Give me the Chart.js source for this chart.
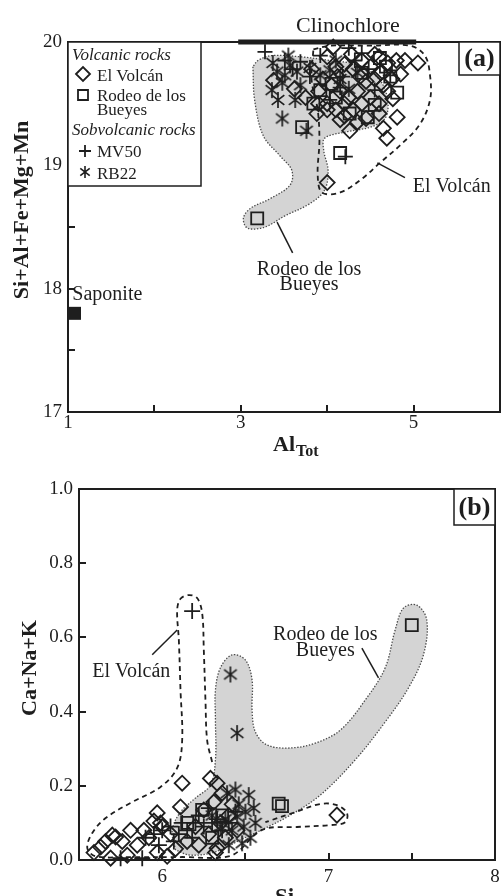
<!DOCTYPE html>
<html>
<head>
<meta charset="utf-8">
<script src="https://cdn.jsdelivr.net/npm/chart.js@4.4.0/dist/chart.umd.min.js"></script>
<style>
  html, body { margin: 0; padding: 0; background: #fff; }
  body { width: 501px; height: 896px; position: relative; overflow: hidden; }
  canvas { position: absolute; left: 0; }
  #chartA { top: 0; }
  #chartB { top: 445px; }
</style>
</head>
<body>
<canvas id="chartA" width="501" height="470"></canvas>
<canvas id="chartB" width="501" height="451"></canvas>
<script>
// ---- panel (a): Si+Al+Fe+Mg+Mn vs Al_Tot ----
const aXTicks = [1, 2, 3, 4, 5, 6];
const aXLabels = [1, 3, 5];
const aYTicks = [17, 17.5, 18, 18.5, 19, 19.5, 20];

const volcanA_al = [4.07, 4.00, 4.10, 4.20, 4.30, 4.40, 4.50, 4.60, 4.70, 4.80, 4.90, 5.05, 4.85, 4.75, 4.65, 4.55, 4.45, 4.35, 4.25, 4.15,
  4.05, 3.95, 3.90, 4.00, 4.10, 4.20, 4.30, 4.40, 4.50, 4.60, 4.70, 4.76, 4.81, 4.65, 4.69, 4.60, 4.45, 4.35, 4.20, 4.00,
  3.90, 4.00, 3.82, 3.75, 4.55, 4.28, 3.88, 4.12, 4.38, 4.62, 4.26, 4.15, 3.38, 3.62];
const volcanA_sum = [19.96, 19.88, 19.80, 19.82, 19.78, 19.85, 19.80, 19.88, 19.83, 19.85, 19.85, 19.83, 19.74, 19.70, 19.65, 19.70, 19.68, 19.60, 19.55, 19.60,
  19.65, 19.70, 19.60, 19.50, 19.45, 19.40, 19.45, 19.50, 19.55, 19.50, 19.60, 19.54, 19.39, 19.30, 19.22, 19.42, 19.38, 19.35, 19.50, 19.45,
  19.50, 18.86, 19.78, 19.55, 19.90, 19.90, 19.42, 19.72, 19.72, 19.75, 19.28, 19.37, 19.69, 19.62];

const rodeoA_al = [3.19, 4.15, 3.71, 3.84, 4.47, 4.55, 3.92, 4.61, 4.73, 4.81, 4.26, 4.05, 4.68, 4.40, 4.10];
const rodeoA_sum = [18.57, 19.10, 19.31, 19.50, 19.39, 19.49, 19.61, 19.87, 19.72, 19.59, 19.42, 19.66, 19.80, 19.75, 19.55];

const mv50A_al = [4.40, 4.18, 4.21, 3.80, 3.28, 3.51, 4.32, 4.03, 4.55, 3.92, 3.69, 4.15, 4.73, 3.60, 4.48, 4.25];
const mv50A_sum = [19.91, 19.72, 19.07, 19.72, 19.92, 19.85, 19.85, 19.53, 19.61, 19.89, 19.84, 19.63, 19.73, 19.78, 19.78, 19.95];

const rb22A_al = [3.36, 3.37, 3.42, 3.48, 3.43, 3.48, 3.76, 3.65, 3.57, 3.51, 3.69, 3.80, 3.92, 4.03, 3.63, 3.55, 4.15, 4.25, 4.10, 4.35];
const rb22A_sum = [19.61, 19.83, 19.76, 19.67, 19.53, 19.38, 19.28, 19.76, 19.81, 19.73, 19.65, 19.79, 19.73, 19.77, 19.53, 19.89, 19.70, 19.62, 19.85, 19.75];

const saponite_al = [1.075];
const saponite_sum = [17.80];
const clinochlore_al = [2.97, 5.03];
const clinochlore_sum = [20, 20];

const rodeoFieldA_al = [3.14, 3.16, 3.26, 3.45, 3.59, 3.57, 3.34, 3.11, 3.03, 3.08, 3.28, 3.51, 3.80, 3.97, 4.01, 3.96, 3.97, 4.21,
  4.50, 4.67, 4.70, 4.61, 4.38, 4.03, 3.69, 3.36, 3.20, 3.14];
const rodeoFieldA_sum = [19.80, 19.53, 19.24, 19.08, 18.96, 18.84, 18.73, 18.65, 18.57, 18.49, 18.50, 18.59, 18.69, 18.80, 18.96, 19.12, 19.22, 19.27,
  19.31, 19.38, 19.53, 19.69, 19.81, 19.85, 19.88, 19.89, 19.85, 19.80];
const volcanFieldA_al = [3.84, 4.03, 4.50, 4.96, 5.13, 5.19, 5.19, 5.07, 4.84, 4.61, 4.40, 4.15, 3.94, 3.89, 3.91, 3.89, 3.82, 3.84];
const volcanFieldA_sum = [19.94, 19.97, 19.97, 19.97, 19.89, 19.73, 19.53, 19.33, 19.16, 19.02, 18.89, 18.78, 18.78, 18.92, 19.20, 19.45, 19.69, 19.94];

// ---- panel (b): Ca+Na+K vs Si ----
const bXTicks = [5.5, 6, 6.5, 7, 7.5, 8];
const bXLabels = [6, 7, 8];
const bYTicks = [0, 0.2, 0.4, 0.6, 0.8, 1.0];

const volcanB_si = [5.59, 5.63, 5.69, 5.72, 5.79, 5.81, 5.76, 5.85, 5.89, 5.92, 5.97, 5.97, 6.03, 6.00, 6.05, 6.11, 6.12, 6.15, 6.20, 6.25,
  6.29, 6.31, 6.33, 6.32, 6.35, 6.40, 6.38, 6.45, 6.28, 6.22, 5.95, 6.08, 6.42, 7.05, 5.66, 6.36, 5.70, 6.33, 5.99];
const volcanB_alk = [0.020, 0.035, 0.005, 0.062, 0.013, 0.080, 0.050, 0.040, 0.080, 0.060, 0.127, 0.020, 0.010, 0.090, 0.070, 0.143, 0.207, 0.050, 0.090, 0.135,
  0.220, 0.156, 0.207, 0.020, 0.100, 0.120, 0.060, 0.080, 0.070, 0.040, 0.105, 0.030, 0.150, 0.121, 0.050, 0.180, 0.067, 0.032, 0.100];

const rodeoB_si = [7.50, 6.70, 6.72, 6.24, 6.36, 6.30, 6.15];
const rodeoB_alk = [0.633, 0.152, 0.145, 0.135, 0.120, 0.060, 0.100];

const mv50B_si = [6.18, 5.75, 5.88, 5.90, 5.95, 6.00, 6.05, 6.10, 6.12, 6.15, 6.20, 6.22, 6.25, 6.30, 6.33, 6.36, 6.28, 6.18, 6.07, 5.98, 6.40, 6.44];
const mv50B_alk = [0.671, 0.005, 0.005, 0.060, 0.070, 0.080, 0.090, 0.070, 0.100, 0.080, 0.100, 0.120, 0.090, 0.100, 0.110, 0.080, 0.140, 0.060, 0.050, 0.040, 0.100, 0.130];

const rb22B_si = [6.41, 6.45, 6.44, 6.52, 6.39, 6.56, 6.48, 6.45, 6.50, 6.42, 6.53, 6.38, 6.46, 6.40, 6.35, 6.30, 6.49, 6.55];
const rb22B_alk = [0.500, 0.342, 0.190, 0.175, 0.180, 0.100, 0.045, 0.117, 0.130, 0.080, 0.060, 0.110, 0.150, 0.040, 0.090, 0.120, 0.090, 0.140];

const rodeoFieldB_si = [6.08, 6.06, 6.11, 6.20, 6.29, 6.32, 6.32, 6.32, 6.35, 6.42, 6.50, 6.54, 6.54, 6.56, 6.63, 6.77, 6.92, 7.07, 7.22, 7.34,
  7.40, 7.45, 7.53, 7.59, 7.57, 7.48, 7.34, 7.16, 6.95, 6.77, 6.62, 6.47, 6.32, 6.17, 6.08];
const rodeoFieldB_alk = [0.027, 0.081, 0.129, 0.167, 0.202, 0.270, 0.377, 0.458, 0.518, 0.553, 0.539, 0.485, 0.404, 0.345, 0.310, 0.302, 0.315, 0.350, 0.431, 0.518,
  0.620, 0.679, 0.687, 0.647, 0.553, 0.464, 0.372, 0.270, 0.175, 0.121, 0.086, 0.054, 0.022, 0.013, 0.027];
const volcanFieldB_si = [6.30, 6.27, 6.26, 6.25, 6.24, 6.21, 6.16, 6.11, 6.09, 6.10, 6.11, 6.12, 6.09, 5.99, 5.81, 5.66, 5.58, 5.55, 5.60, 5.81,
  6.11, 6.41, 6.60, 6.81, 7.01, 7.10, 7.11, 7.05, 6.95, 6.80, 6.62];
const volcanFieldB_alk = [0.264, 0.323, 0.431, 0.566, 0.666, 0.706, 0.714, 0.704, 0.674, 0.593, 0.458, 0.323, 0.248, 0.197, 0.154, 0.113, 0.073, 0.032, 0.010, 0.008,
  0.008, 0.011, 0.081, 0.089, 0.094, 0.102, 0.127, 0.148, 0.151, 0.129, 0.102];

// ---- look ----
const ink = '#1e1e1e';
const serif = '"Liberation Serif", "Times New Roman", serif';
Chart.defaults.font.family = serif;
Chart.defaults.color = ink;

const pts = (xs, ys) => xs.map((x, i) => ({ x, y: ys[i] }));

// six-armed asterisk for RB22
function asterisk(size, lw) {
  const c = document.createElement('canvas');
  c.width = c.height = size;
  const g = c.getContext('2d');
  const m = size / 2, r = m - 1;
  g.strokeStyle = ink;
  g.lineWidth = lw;
  g.beginPath();
  [90, 38, 142].forEach(d => {
    const t = d * Math.PI / 180;
    g.moveTo(m - r * Math.cos(t), m - r * Math.sin(t));
    g.lineTo(m + r * Math.cos(t), m + r * Math.sin(t));
  });
  g.stroke();
  return c;
}
const starMark = asterisk(18, 1.7);
const starSmall = asterisk(14, 1.6);

function marks(data, style, r) {
  return {
    data, pointStyle: style, pointRadius: r, pointHoverRadius: r,
    pointBorderColor: ink, pointBackgroundColor: 'rgba(0,0,0,0)', pointBorderWidth: 1.8,
    clip: false, order: 0
  };
}
function grayField(data) {
  return {
    data, showLine: true, pointRadius: 0, tension: 0.35, fill: 'shape',
    backgroundColor: '#d4d4d4', borderColor: '#4a4a4a', borderWidth: 1.3, borderDash: [1.4, 1.6], order: 10
  };
}
function dashedField(data) {
  return {
    data, showLine: true, pointRadius: 0, tension: 0.35, fill: false,
    borderColor: ink, borderWidth: 1.8, borderDash: [5, 4], order: 5
  };
}

// box + inward ticks
function frame(xTicks, yTicks) {
  return {
    id: 'frame',
    afterDraw(chart) {
      const { ctx, chartArea: a } = chart;
      const sx = chart.scales.x, sy = chart.scales.y;
      ctx.save();
      ctx.strokeStyle = ink;
      ctx.lineWidth = 2;
      ctx.strokeRect(a.left, a.top, a.right - a.left, a.bottom - a.top);
      ctx.beginPath();
      xTicks.forEach(v => {
        const px = Math.round(sx.getPixelForValue(v));
        ctx.moveTo(px, a.bottom);
        ctx.lineTo(px, a.bottom - 7);
      });
      yTicks.forEach(v => {
        const py = Math.round(sy.getPixelForValue(v));
        ctx.moveTo(a.left, py);
        ctx.lineTo(a.left + 7, py);
      });
      ctx.stroke();
      ctx.restore();
    }
  };
}

function write(chart, str, xv, yv, font, align) {
  const ctx = chart.ctx;
  ctx.font = font;
  ctx.textAlign = align || 'left';
  ctx.textBaseline = 'alphabetic';
  ctx.fillStyle = ink;
  ctx.fillText(str, chart.scales.x.getPixelForValue(xv), chart.scales.y.getPixelForValue(yv));
}
function leader(chart, x1, y1, x2, y2) {
  const ctx = chart.ctx, sx = chart.scales.x, sy = chart.scales.y;
  ctx.strokeStyle = ink;
  ctx.lineWidth = 1.5;
  ctx.beginPath();
  ctx.moveTo(sx.getPixelForValue(x1), sy.getPixelForValue(y1));
  ctx.lineTo(sx.getPixelForValue(x2), sy.getPixelForValue(y2));
  ctx.stroke();
}
function tag(chart, str, w, h) {
  const { ctx, chartArea: a } = chart;
  ctx.fillStyle = '#fff';
  ctx.fillRect(a.right - w, a.top, w, h);
  ctx.strokeStyle = ink;
  ctx.lineWidth = 1.5;
  ctx.strokeRect(a.right - w, a.top, w, h);
  ctx.font = 'bold 26px ' + serif;
  ctx.textAlign = 'center';
  ctx.textBaseline = 'middle';
  ctx.fillStyle = ink;
  ctx.fillText(str, a.right - w / 2, a.top + h / 2 + 1);
}
function vTitle(ctx, str, x, y) {
  ctx.save();
  ctx.translate(x, y);
  ctx.rotate(-Math.PI / 2);
  ctx.font = 'bold 22px ' + serif;
  ctx.textAlign = 'center';
  ctx.textBaseline = 'alphabetic';
  ctx.fillStyle = ink;
  ctx.fillText(str, 0, 0);
  ctx.restore();
}
function legendMark(ctx, style, x, y) {
  ctx.strokeStyle = ink;
  ctx.lineWidth = 1.8;
  ctx.beginPath();
  if (style === 'rectRot') {
    ctx.moveTo(x - 7, y); ctx.lineTo(x, y - 7); ctx.lineTo(x + 7, y); ctx.lineTo(x, y + 7); ctx.closePath();
  } else if (style === 'rect') {
    ctx.rect(x - 5, y - 5, 10, 10);
  } else if (style === 'cross') {
    ctx.moveTo(x, y - 6); ctx.lineTo(x, y + 6); ctx.moveTo(x - 6, y); ctx.lineTo(x + 6, y);
  }
  ctx.stroke();
  if (style === 'star') ctx.drawImage(starSmall, x - 7, y - 7);
}

const notesA = {
  id: 'notesA',
  afterDraw(chart) {
    const { ctx, chartArea: a } = chart;
    ctx.save();
    write(chart, 'Clinochlore', 4.24, 20.08, '22px ' + serif, 'center');
    write(chart, 'El Volcán', 4.99, 18.78, '20px ' + serif);
    leader(chart, 4.58, 19.02, 4.90, 18.90);
    write(chart, 'Rodeo de los', 3.79, 18.11, '20px ' + serif, 'center');
    write(chart, 'Bueyes', 3.79, 17.99, '20px ' + serif, 'center');
    leader(chart, 3.42, 18.54, 3.60, 18.29);
    write(chart, 'Saponite', 1.05, 17.91, '20px ' + serif);
    tag(chart, '(a)', 41, 33);

    // legend
    const L = a.left, T = a.top;
    ctx.fillStyle = '#fff';
    ctx.fillRect(L, T, 133, 144);
    ctx.strokeStyle = ink;
    ctx.lineWidth = 1.5;
    ctx.strokeRect(L, T, 133, 144);
    ctx.fillStyle = ink;
    ctx.textAlign = 'left';
    ctx.textBaseline = 'alphabetic';
    ctx.font = 'italic 17px ' + serif;
    ctx.fillText('Volcanic rocks', L + 4, T + 18);
    ctx.fillText('Sobvolcanic rocks', L + 4, T + 93);
    ctx.font = '17px ' + serif;
    ctx.fillText('El Volcán', L + 29, T + 39);
    ctx.fillText('Rodeo de los', L + 29, T + 59);
    ctx.fillText('Bueyes', L + 29, T + 73);
    ctx.fillText('MV50', L + 29, T + 115);
    ctx.fillText('RB22', L + 29, T + 137);
    legendMark(ctx, 'rectRot', L + 15, T + 32);
    legendMark(ctx, 'rect', L + 15, T + 53);
    legendMark(ctx, 'cross', L + 17, T + 109);
    legendMark(ctx, 'star', L + 17, T + 130);

    vTitle(ctx, 'Si+Al+Fe+Mg+Mn', 28, 210);
    ctx.font = 'bold 22px ' + serif;
    ctx.textAlign = 'left';
    ctx.fillText('Al', 273, 451);
    ctx.font = 'bold 16px ' + serif;
    ctx.fillText('Tot', 296, 456);
    ctx.restore();
  }
};

const notesB = {
  id: 'notesB',
  afterDraw(chart) {
    const ctx = chart.ctx;
    ctx.save();
    write(chart, 'El Volcán', 5.58, 0.493, '20px ' + serif);
    leader(chart, 5.94, 0.553, 6.09, 0.620);
    write(chart, 'Rodeo de los', 6.98, 0.593, '20px ' + serif, 'center');
    write(chart, 'Bueyes', 6.98, 0.550, '20px ' + serif, 'center');
    leader(chart, 7.20, 0.571, 7.30, 0.491);
    tag(chart, '(b)', 41, 36);
    vTitle(ctx, 'Ca+Na+K', 36, 223);
    ctx.font = 'bold 23px ' + serif;
    ctx.textAlign = 'left';
    ctx.fillStyle = ink;
    ctx.fillText('Si', 275, 453);
    ctx.restore();
  }
};

function axes(xMin, xMax, xStep, xLabels, xPad, xHeight, yMin, yMax, yStep, yFmt, yWidth) {
  return {
    x: {
      type: 'linear', min: xMin, max: xMax,
      border: { display: false },
      grid: { display: false, drawTicks: false },
      ticks: {
        stepSize: xStep, autoSkip: false, maxRotation: 0, padding: xPad,
        font: { size: 19 }, color: ink,
        callback: v => (xLabels.some(l => Math.abs(l - v) < 1e-6) ? String(Math.round(v)) : '')
      },
      afterFit: s => { s.height = xHeight; s.paddingLeft = 0; s.paddingRight = 0; }
    },
    y: {
      type: 'linear', min: yMin, max: yMax,
      border: { display: false },
      grid: { display: false, drawTicks: false },
      ticks: {
        stepSize: yStep, autoSkip: false, padding: 6,
        font: { size: 19 }, color: ink,
        callback: yFmt
      },
      afterFit: s => { s.width = yWidth; s.paddingTop = 0; s.paddingBottom = 0; }
    }
  };
}

new Chart(document.getElementById('chartA'), {
  type: 'scatter',
  data: {
    datasets: [
      marks(pts(volcanA_al, volcanA_sum), 'rectRot', 7.5),
      marks(pts(rodeoA_al, rodeoA_sum), 'rect', 8.5),
      marks(pts(mv50A_al, mv50A_sum), 'cross', 7.5),
      marks(pts(rb22A_al, rb22A_sum), starMark, 9),
      Object.assign(marks(pts(saponite_al, saponite_sum), 'rect', 9.2), { pointBackgroundColor: ink, pointBorderWidth: 0 }),
      { data: pts(clinochlore_al, clinochlore_sum), showLine: true, pointRadius: 0, borderColor: ink, borderWidth: 5, fill: false, clip: false, order: 1 },
      dashedField(pts(volcanFieldA_al, volcanFieldA_sum)),
      grayField(pts(rodeoFieldA_al, rodeoFieldA_sum))
    ]
  },
  options: {
    responsive: false,
    animation: false,
    events: [],
    layout: { autoPadding: false, padding: { top: 42, right: 1, left: 0, bottom: 0 } },
    plugins: { legend: { display: false }, tooltip: { enabled: false } },
    scales: axes(1, 6, 1, aXLabels, 0, 58, 17, 20, 1, v => String(Math.round(v)), 68)
  },
  plugins: [frame(aXTicks, aYTicks), notesA]
});

new Chart(document.getElementById('chartB'), {
  type: 'scatter',
  data: {
    datasets: [
      marks(pts(volcanB_si, volcanB_alk), 'rectRot', 7.5),
      marks(pts(rodeoB_si, rodeoB_alk), 'rect', 8.5),
      marks(pts(mv50B_si, mv50B_alk), 'cross', 8),
      marks(pts(rb22B_si, rb22B_alk), starMark, 9),
      dashedField(pts(volcanFieldB_si, volcanFieldB_alk)),
      grayField(pts(rodeoFieldB_si, rodeoFieldB_alk))
    ]
  },
  options: {
    responsive: false,
    animation: false,
    events: [],
    layout: { autoPadding: false, padding: { top: 44, right: 6, left: 0, bottom: 0 } },
    plugins: { legend: { display: false }, tooltip: { enabled: false } },
    scales: axes(5.5, 8, 0.5, bXLabels, 6, 36, 0, 1, 0.2, v => Number(v).toFixed(1), 79)
  },
  plugins: [frame(bXTicks, bYTicks), notesB]
});
</script>
</body>
</html>
